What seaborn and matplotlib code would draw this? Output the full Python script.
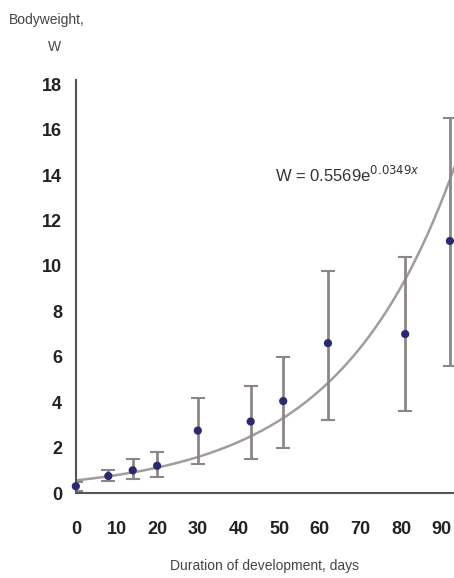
import matplotlib
matplotlib.use("Agg")
import matplotlib.pyplot as plt
import numpy as np
import pandas as pd
import seaborn as sns

# values
days = [0, 8, 14, 20, 30, 43, 51, 62, 81, 92]
weight = [0.3, 0.75, 1.0, 1.2, 2.75, 3.15, 4.05, 6.6, 7.0, 11.1]
w_low = [0.1, 0.55, 0.6, 0.7, 1.3, 1.5, 2.0, 3.2, 3.6, 5.6]
w_high = [0.5, 1.0, 1.5, 1.8, 4.2, 4.7, 6.0, 9.8, 10.4, 16.5]

# fitted curve W = a * exp(b * t), coefficients from the chart
fit_a = 0.5569
fit_b = 0.0349
x_ticks = [0, 10, 20, 30, 40, 50, 60, 70, 80, 90]
y_ticks = [0, 2, 4, 6, 8, 10, 12, 14, 16, 18]

df = pd.DataFrame({"day": days, "w": weight, "lo": w_low, "hi": w_high})
t = np.linspace(0, 95, 200)
fit = pd.DataFrame({"day": t, "w": fit_a * np.exp(fit_b * t)})

sns.set_style("white")
plt.rcParams["font.family"] = ["Liberation Sans", "DejaVu Sans"]

fig = plt.figure(figsize=(4.54, 5.78), dpi=100)
ax = fig.add_axes([0.167, 0.147, 0.833, 0.715])

sns.lineplot(data=fit, x="day", y="w", ax=ax, color="#a39c9c", linewidth=1.8)
ax.errorbar(df["day"], df["w"],
            yerr=[df["w"] - df["lo"], df["hi"] - df["w"]],
            fmt="none", ecolor="#8d8686", elinewidth=2.0,
            capsize=5, capthick=1.5)
sns.scatterplot(data=df, x="day", y="w", ax=ax, color="#2c2a6e",
                s=35, edgecolor="none", zorder=5, clip_on=False)

ax.set_xlim(0, 93)
ax.set_ylim(0, 18.2)
ax.set_xticks(x_ticks)
ax.set_yticks(y_ticks)
ax.tick_params(axis="both", labelsize=13, length=4, width=1,
               color="#777777")
ax.tick_params(axis="y", pad=6)
ax.tick_params(axis="x", pad=16)
for lab in ax.get_xticklabels() + ax.get_yticklabels():
    lab.set_fontweight("bold")
    lab.set_color("#222222")

ax.spines["top"].set_visible(False)
ax.spines["right"].set_visible(False)
for s in ["left", "bottom"]:
    ax.spines[s].set_color("#555555")
    ax.spines[s].set_linewidth(1.5)

ax.set_xlabel("Duration of development, days", fontsize=10, color="#444444",
              labelpad=15)
ax.set_ylabel("")
fig.text(0.02, 0.965, "Bodyweight,", fontsize=10, color="#444444",
         ha="left", va="center")
fig.text(0.12, 0.918, "W", fontsize=10, color="#444444", ha="center",
         va="center")

ax.text(49, 14.0, r"W = 0.5569e$^{0.0349x}$", fontsize=12, color="#333333",
        ha="left", va="center")

fig.savefig("out.png", dpi=100)
